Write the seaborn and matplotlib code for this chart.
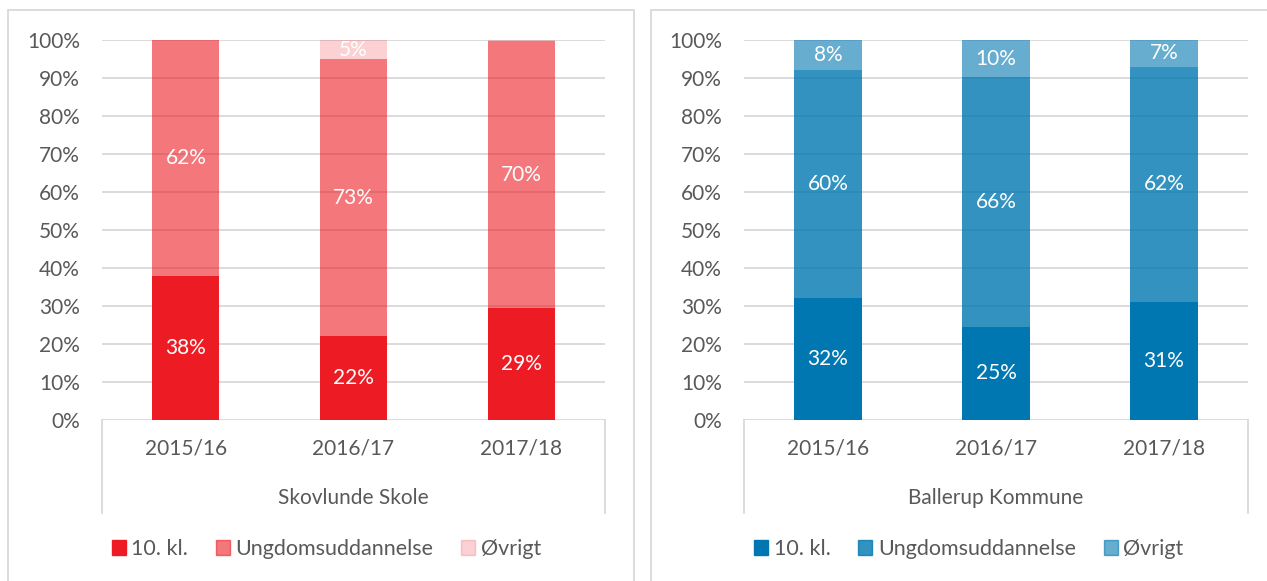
import matplotlib
matplotlib.use('Agg')
import seaborn as sns
import pandas as pd
import matplotlib.pyplot as plt
from matplotlib.colors import to_rgba
from matplotlib.patches import Rectangle
from matplotlib.lines import Line2D

years = ['2015/16', '2016/17', '2017/18']
series = ['10. kl.', 'Ungdomsuddannelse', 'Øvrigt']

skov_10 = [38, 22, 29.4]
skov_ung = [62, 73, 70.4]
skov_ovr = [0, 5, 0.2]

ball_10 = [32, 24.6, 31]
ball_ung = [60, 65.6, 62]
ball_ovr = [8, 9.8, 7]

plt.rcParams['font.family'] = ['Lato', 'DejaVu Sans']
txt = '#595959'
grid = '#D9D9D9'
fs = 15

W, H = 1267, 581
fig = plt.figure(figsize=(W / 100, H / 100), dpi=100)

panels = [
    dict(name='Skovlunde Skole', vals=[skov_10, skov_ung, skov_ovr], base='#ED1C24',
         alphas=[1, 0.6, 0.2], x0=102, x1=605, frame=(8, 634)),
    dict(name='Ballerup Kommune', vals=[ball_10, ball_ung, ball_ovr], base='#0077B0',
         alphas=[1, 0.8, 0.6], x0=744, x1=1248, frame=(651, 1280)),
]

for p in panels:
    # panel frame
    fx0, fx1 = p['frame']
    fig.patches.append(Rectangle((fx0 / W, -0.05), (fx1 - fx0) / W, 1.05 - 10 / H,
                                 transform=fig.transFigure, fill=False,
                                 ec=grid, lw=1.3))
    ax = fig.add_axes([p['x0'] / W, 1 - 420 / H, (p['x1'] - p['x0']) / W, 380 / H])
    ax.set_axisbelow(True)
    ax.yaxis.grid(True, color=grid, lw=1.3)

    bottom = [0, 0, 0]
    for s, vals, a in zip(series, p['vals'], p['alphas']):
        df = pd.DataFrame({'year': years, 'val': vals})
        sns.barplot(data=df, x='year', y='val', order=years, color=to_rgba(p['base'], a),
                    saturation=1, width=0.4, bottom=bottom, errorbar=None, ax=ax,
                    linewidth=0)
        for i, v in enumerate(vals):
            if v >= 3:
                ax.text(i, bottom[i] + v / 2, f'{round(v)}%', color='white',
                        ha='center', va='center', fontsize=fs)
        bottom = [b + v for b, v in zip(bottom, vals)]

    ax.set_xlim(-0.5, 2.5)
    ax.set_ylim(0, 100)
    ax.set_yticks(range(0, 101, 10))
    ax.set_yticklabels([f'{t}%' for t in range(0, 101, 10)])
    ax.tick_params(length=0, labelsize=fs, colors=txt)
    ax.tick_params(axis='y', pad=16)
    ax.tick_params(axis='x', pad=13)
    ax.set_xlabel('')
    ax.set_ylabel('')
    for sp in ax.spines.values():
        sp.set_visible(False)

    # category box lines
    for xx in (0, 1):
        ax.add_line(Line2D([xx, xx], [0, -0.245], transform=ax.transAxes,
                           color=grid, lw=1.3, clip_on=False))
    ax.text(0.5, -0.205, p['name'], transform=ax.transAxes, ha='center', va='center',
            fontsize=fs, color=txt)

    handles = [Rectangle((0, 0), 1, 1, color=to_rgba(p['base'], a)) for a in p['alphas']]
    ax.legend(handles, series, loc='center', bbox_to_anchor=(0.446, -0.34), ncol=3,
              frameon=False, handlelength=0.65, handleheight=0.65, handletextpad=0.25,
              columnspacing=1.3, fontsize=15.5, labelcolor=txt)

fig.savefig('out.png', dpi=100)
